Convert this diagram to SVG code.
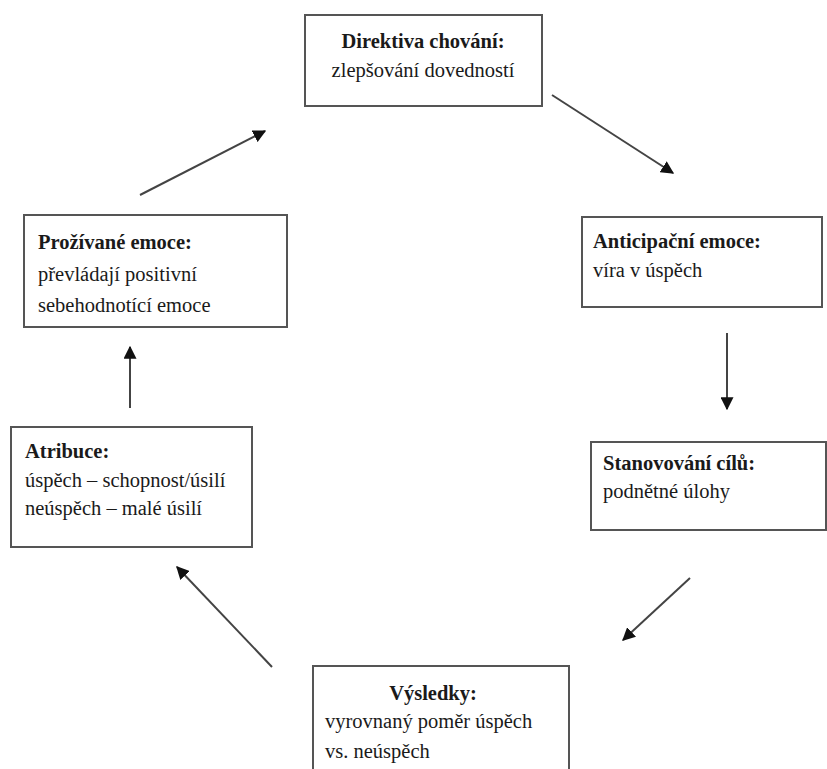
<svg xmlns="http://www.w3.org/2000/svg" width="827" height="769" viewBox="0 0 827 769">
<style>
.box{fill:#fff;stroke:#555;stroke-width:2}
text{font-family:"Liberation Serif","Times New Roman",serif;font-size:20.5px;fill:#1a1a1a}
.b{font-weight:bold}
.c{text-anchor:middle}
.ln{stroke:#444;stroke-width:2;fill:none;marker-end:url(#ah)}
</style>
<defs>
<marker id="ah" viewBox="0 0 10 10" refX="9" refY="5" markerWidth="6.5" markerHeight="6.5" orient="auto" markerUnits="strokeWidth">
<path d="M0,0 L10,5 L0,10 z" fill="#111"/>
</marker>
</defs>
<rect width="827" height="769" fill="#fff"/>
<g id="connectors">
<line class="ln" x1="552" y1="95" x2="673" y2="173"/>
<line class="ln" x1="727" y1="333" x2="727" y2="409"/>
<line class="ln" x1="690" y1="578" x2="623" y2="640"/>
<line class="ln" x1="272" y1="667" x2="177" y2="567"/>
<line class="ln" x1="130" y1="408" x2="130" y2="347"/>
<line class="ln" x1="140" y1="195" x2="265" y2="131"/>
</g>
<g id="directiva">
<rect class="box" x="305" y="15" width="237" height="91"/>
<text class="b c" x="423" y="48">Direktiva chování:</text>
<text class="c" x="423" y="77">zlepšování dovedností</text>
</g>
<g id="anticipacni">
<rect class="box" x="582" y="217" width="240" height="90"/>
<text class="b" x="593" y="248">Anticipační emoce:</text>
<text x="593" y="277">víra v úspěch</text>
</g>
<g id="stanovovani">
<rect class="box" x="591" y="442" width="235" height="88"/>
<text class="b" x="603" y="470">Stanovování cílů:</text>
<text x="603" y="498">podnětné úlohy</text>
</g>
<g id="vysledky">
<rect class="box" x="313" y="666" width="256" height="110"/>
<text class="b c" x="433" y="700">Výsledky:</text>
<text x="325" y="728">vyrovnaný poměr úspěch</text>
<text x="325" y="758">vs. neúspěch</text>
</g>
<g id="atribuce">
<rect class="box" x="11" y="427" width="241" height="120"/>
<text class="b" x="25" y="458">Atribuce:</text>
<text x="25" y="487">úspěch – schopnost/úsilí</text>
<text x="25" y="515">neúspěch – malé úsilí</text>
</g>
<g id="prozivane">
<rect class="box" x="24" y="215" width="263" height="112"/>
<text class="b" x="38" y="249">Prožívané emoce:</text>
<text x="38" y="281">převládají positivní</text>
<text x="38" y="312">sebehodnotící emoce</text>
</g>
</svg>
